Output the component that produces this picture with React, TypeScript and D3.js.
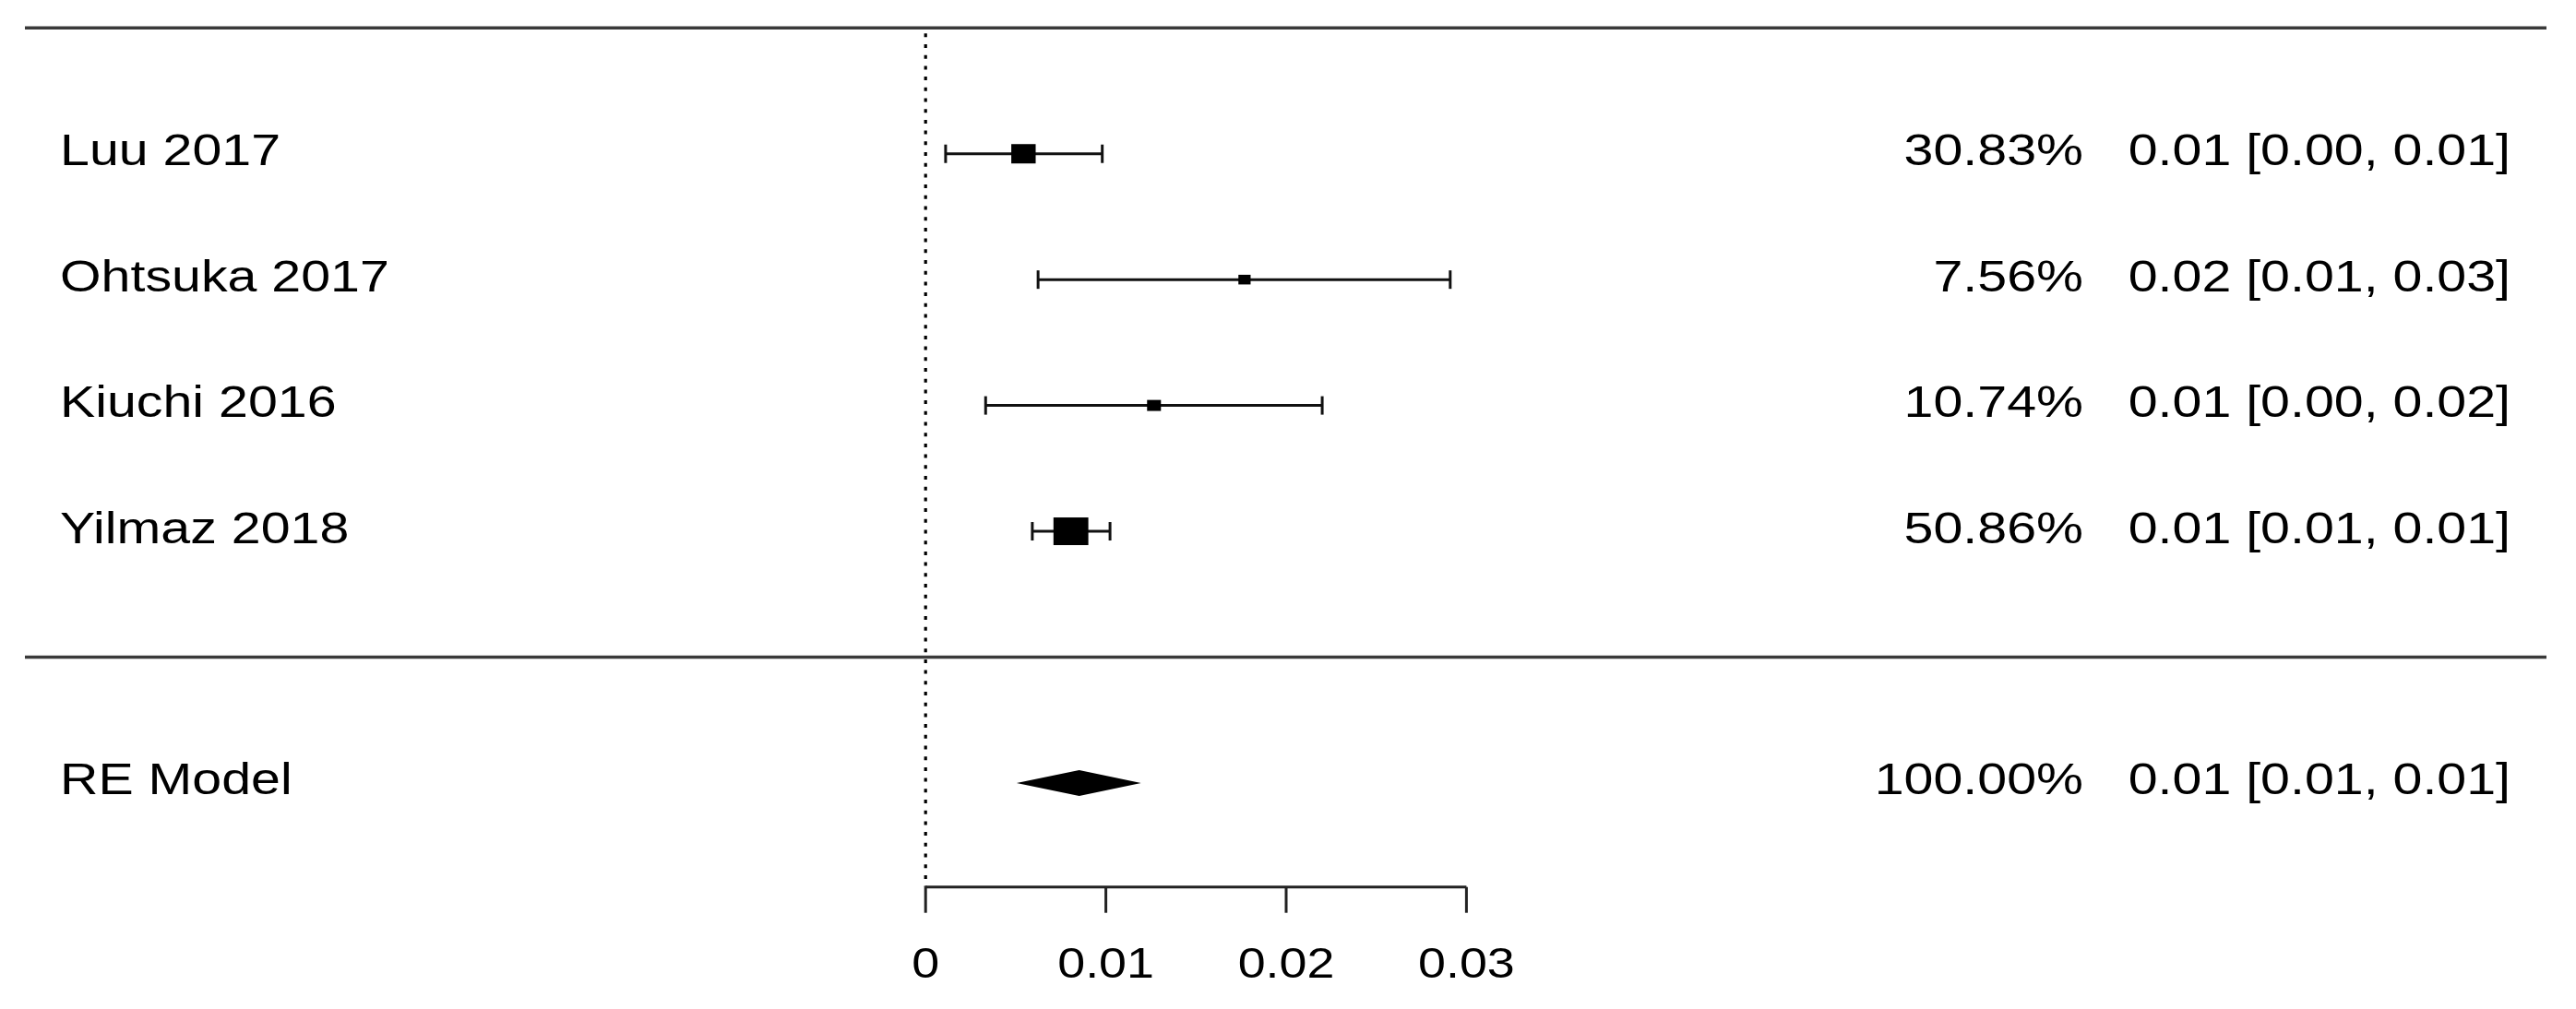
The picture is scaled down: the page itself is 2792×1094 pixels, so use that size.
import React from 'react';
import { scaleLinear } from 'd3';

// study rows, top to bottom
const studyNames = ['Luu 2017', 'Ohtsuka 2017', 'Kiuchi 2016', 'Yilmaz 2018'];
const studyEstimates = [0.00543, 0.01769, 0.01267, 0.00806];
const studyLower = [0.00111, 0.00624, 0.00333, 0.00592];
const studyUpper = [0.0098, 0.0291, 0.022, 0.01023];
const studyWeights = [30.83, 7.56, 10.74, 50.86];
const studyWeightLabels = ['30.83%', '7.56%', '10.74%', '50.86%'];
const studyCiLabels = ['0.01 [0.00, 0.01]', '0.02 [0.01, 0.03]', '0.01 [0.00, 0.02]', '0.01 [0.01, 0.01]'];

// pooled random effects row
const modelName = 'RE Model';
const modelEstimate = 0.00852;
const modelLower = 0.00505;
const modelUpper = 0.01195;
const modelWeightLabel = '100.00%';
const modelCiLabel = '0.01 [0.01, 0.01]';

const xTicks = [0, 0.01, 0.02, 0.03];
const xTickLabels = ['0', '0.01', '0.02', '0.03'];

const FONT = '"Liberation Sans", Arial, Helvetica, sans-serif';

// the source image is a bit wider than tall, so text gets stretched sideways
const Label = ({ x, y, size = 49, anchor = 'start', sx = 1.17, children }) => (
    <text transform={`translate(${x},${y}) scale(${sx},1)`}
        textAnchor={anchor} fontSize={size} fontFamily={FONT} fill='#000'>
        {children}
    </text>
);

export default function App() {
    const width = 2792,
        height = 1094,
        leftEdge = 27,
        rightEdge = 2760,
        labelX = 65,
        weightX = 2258,
        ciX = 2721,
        axisY = 961.7,
        tickLen = 28,
        capHalf = 10,
        textShift = 12.5;

    const xScale = scaleLinear().domain([0, 0.03]).range([1003.2, 1589.4]);
    // rows k..1 for studies, 0 = separator, -1 = summary, k+1 = top rule
    const yScale = scaleLinear().domain([5, -1]).range([30.3, 848.9]);
    const sizeScale = scaleLinear()
        .domain([Math.min(...studyWeights), Math.max(...studyWeights)])
        .range([10.5, 30]);

    const rows = studyNames.map((d, i) => ({
        name: d,
        y: yScale(studyNames.length - i),
        est: xScale(studyEstimates[i]),
        lo: xScale(studyLower[i]),
        hi: xScale(studyUpper[i]),
        h: sizeScale(studyWeights[i]),
        weightLabel: studyWeightLabels[i],
        ciLabel: studyCiLabels[i]
    }));

    const yModel = yScale(-1);
    const diamond = [
        [xScale(modelLower), yModel],
        [xScale(modelEstimate), yModel - 14],
        [xScale(modelUpper), yModel],
        [xScale(modelEstimate), yModel + 14]
    ].map((p) => p.join(',')).join(' ');

    return (
        <svg width={width} height={height}
            style={{ position: 'absolute', left: 0, top: 0, background: '#fff' }}>
            {/* rules */}
            <line x1={leftEdge} x2={rightEdge} y1={yScale(5)} y2={yScale(5)} stroke='#3a3a3a' strokeWidth={3.5} />
            <line x1={leftEdge} x2={rightEdge} y1={yScale(0)} y2={yScale(0)} stroke='#3a3a3a' strokeWidth={3.5} />

            {/* reference line at zero */}
            <line x1={xScale(0)} x2={xScale(0)} y1={yScale(5) + 6} y2={axisY}
                stroke='#000' strokeWidth={3.2} strokeDasharray='4 7.7' />

            {rows.map((r, i) => (
                <g key={'row-' + i}>
                    <line x1={r.lo} x2={r.hi} y1={r.y} y2={r.y} stroke='#111' strokeWidth={3} />
                    <line x1={r.lo} x2={r.lo} y1={r.y - capHalf} y2={r.y + capHalf} stroke='#111' strokeWidth={3} />
                    <line x1={r.hi} x2={r.hi} y1={r.y - capHalf} y2={r.y + capHalf} stroke='#111' strokeWidth={3} />
                    <rect x={r.est - r.h * 0.63} y={r.y - r.h / 2} width={r.h * 1.26} height={r.h} fill='#000' />
                    <Label x={labelX} y={r.y + textShift}>{r.name}</Label>
                    <Label x={weightX} y={r.y + textShift} anchor='end'>{r.weightLabel}</Label>
                    <Label x={ciX} y={r.y + textShift} anchor='end'>{r.ciLabel}</Label>
                </g>
            ))}

            {/* summary */}
            <polygon points={diamond} fill='#000' />
            <Label x={labelX} y={yModel + textShift}>{modelName}</Label>
            <Label x={weightX} y={yModel + textShift} anchor='end'>{modelWeightLabel}</Label>
            <Label x={ciX} y={yModel + textShift} anchor='end'>{modelCiLabel}</Label>

            {/* x axis */}
            <line x1={xScale(xTicks[0])} x2={xScale(xTicks[xTicks.length - 1])} y1={axisY} y2={axisY}
                stroke='#222' strokeWidth={3} />
            {xTicks.map((t, i) => (
                <g key={'tick-' + i}>
                    <line x1={xScale(t)} x2={xScale(t)} y1={axisY} y2={axisY + tickLen} stroke='#222' strokeWidth={3} />
                    <Label x={xScale(t)} y={1060} size={46} anchor='middle'>{xTickLabels[i]}</Label>
                </g>
            ))}
        </svg>
    );
}
